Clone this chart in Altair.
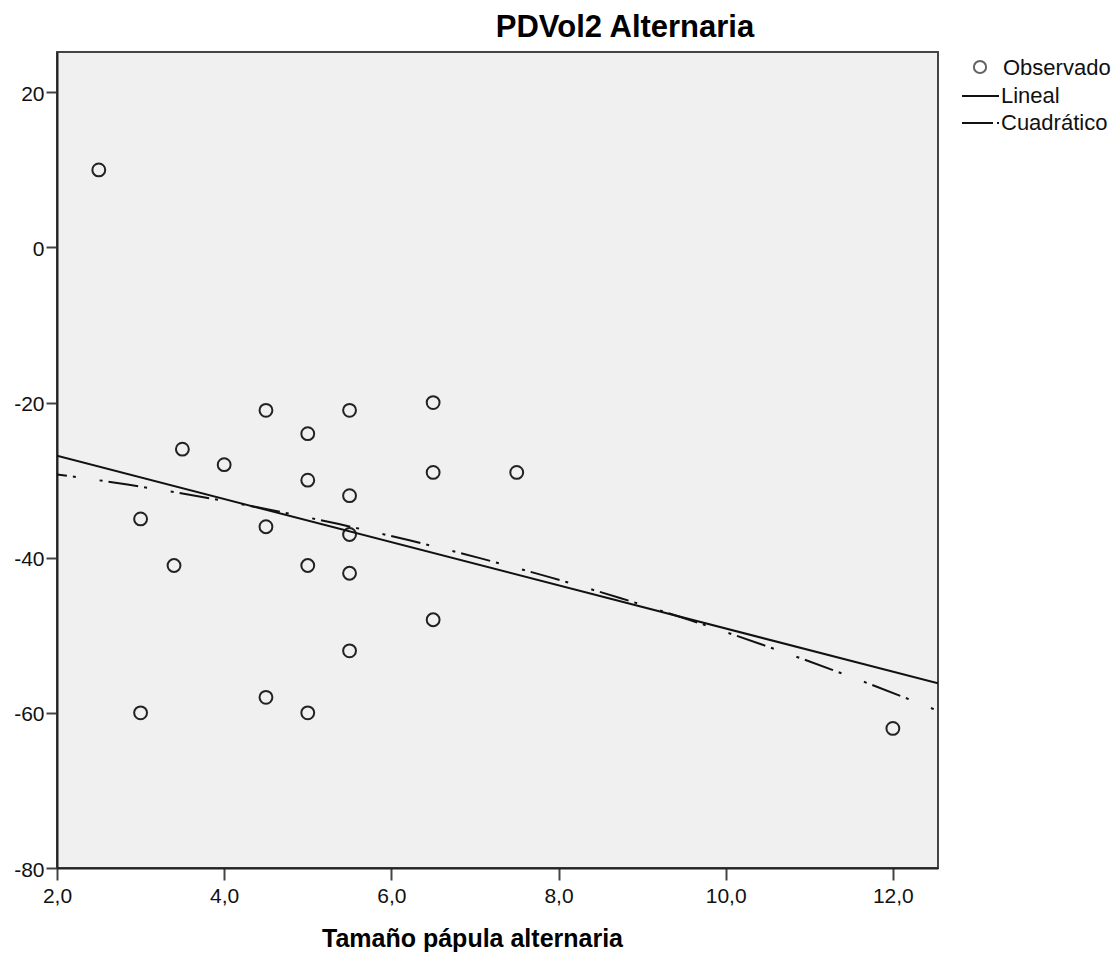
import altair as alt
import pandas as pd

# Observed data (Tamaño pápula alternaria vs PDVol2 Alternaria)
papula = [2.5, 3.0, 3.0, 3.4, 3.5, 4.0, 4.5, 4.5, 4.5, 5.0, 5.0, 5.0, 5.0,
          5.5, 5.5, 5.5, 5.5, 5.5, 6.5, 6.5, 6.5, 7.5, 12.0]
pdvol2 = [10, -35, -60, -41, -26, -28, -21, -36, -58, -24, -30, -41, -60,
          -21, -32, -37, -42, -52, -20, -29, -48, -29, -62]

x_ticks = [2, 4, 6, 8, 10, 12]
y_ticks = [20, 0, -20, -40, -60, -80]
x_domain = [2.0, 12.54]
y_domain = [-80.0, 25.2]

legend_labels = ["Observado", "Lineal", "Cuadrático"]
title_text = "PDVol2 Alternaria"
x_title = "Tamaño pápula alternaria"

df = pd.DataFrame({"x": papula, "y": pdvol2})
one = pd.DataFrame({"k": [0]})

FONT = "Liberation Sans"
DASH = [30, 6, 3, 24, 3, 6]

xs = alt.Scale(domain=x_domain, nice=False, zero=False)
ys = alt.Scale(domain=y_domain, nice=False, zero=False)

x_axis = alt.Axis(values=x_ticks, title=None, grid=False, labelFlush=False,
                  labelExpr="replace(format(datum.value, '.1f'), '.', ',')",
                  labelFont=FONT, labelFontSize=21, labelColor="#111",
                  tickSize=12, tickWidth=2, tickColor="#444",
                  domainColor="#222", domainWidth=2, labelPadding=5)
y_axis = alt.Axis(values=y_ticks, title=None, grid=False, labelFlush=False,
                  labelExpr="toString(datum.value)", labelOffset=2,
                  labelFont=FONT, labelFontSize=21, labelColor="#111",
                  tickSize=11, tickWidth=2, tickColor="#444",
                  domainColor="#222", domainWidth=2, labelPadding=2)

base = alt.Chart(df)

points = base.mark_point(shape="circle", filled=False, size=165,
                         strokeWidth=2, color="#222", opacity=1).encode(
    x=alt.X("x:Q", scale=xs, axis=x_axis),
    y=alt.Y("y:Q", scale=ys, axis=y_axis),
)

linear = base.transform_regression(
    "x", "y", method="linear", extent=x_domain
).mark_line(color="#111", strokeWidth=2, clip=True).encode(
    x=alt.X("x:Q", scale=xs), y=alt.Y("y:Q", scale=ys)
)

quad = base.transform_regression(
    "x", "y", method="poly", order=2, extent=x_domain
).mark_line(color="#111", strokeWidth=2, strokeDash=DASH, strokeDashOffset=20,
            clip=True).encode(
    x=alt.X("x:Q", scale=xs), y=alt.Y("y:Q", scale=ys)
)

# Title and axis title
title = alt.Chart(one).mark_text(text=title_text, font=FONT, fontSize=31,
                                 fontWeight="bold", align="center",
                                 baseline="alphabetic", color="#000").encode(
    x=alt.value(568), y=alt.value(-15))

xtitle = alt.Chart(one).mark_text(text=x_title, font=FONT, fontSize=25,
                                  fontWeight="bold", align="left",
                                  baseline="alphabetic", color="#000").encode(
    x=alt.value(265), y=alt.value(895))

# Legend (drawn manually to the right of the plot)
leg_pt = alt.Chart(one).mark_point(shape="circle", filled=False, size=150,
                                   strokeWidth=2, color="#222").encode(
    x=alt.value(923), y=alt.value(15))
leg_lin = alt.Chart(one).mark_rule(color="#111", strokeWidth=2).encode(
    x=alt.value(905), x2=alt.value(942), y=alt.value(44))
leg_quad = alt.Chart(one).mark_rule(color="#111", strokeWidth=2,
                                    strokeDash=[31, 4, 2, 30]).encode(
    x=alt.value(905), x2=alt.value(942), y=alt.value(71))

legend_texts = []
for i, lab in enumerate(legend_labels):
    legend_texts.append(
        alt.Chart(one).mark_text(text=lab, font=FONT, fontSize=22, align="left",
                                 baseline="middle", color="#111").encode(
            x=alt.value(946 if i == 0 else 944),
            y=alt.value([16, 44, 71][i]))
    )

chart = alt.layer(
    points, linear, quad, title, xtitle, leg_pt, leg_lin, leg_quad, *legend_texts
).properties(
    width=881, height=816,
    autosize=alt.AutoSizeParams(type="none"),
    padding={"left": 57, "top": 52, "right": 180, "bottom": 92},
    background="#ffffff",
).configure_view(
    fill="#F0F0F0", stroke="#444", strokeWidth=2
)

chart.save("out.html", embed_options={"renderer": "svg", "actions": False})
